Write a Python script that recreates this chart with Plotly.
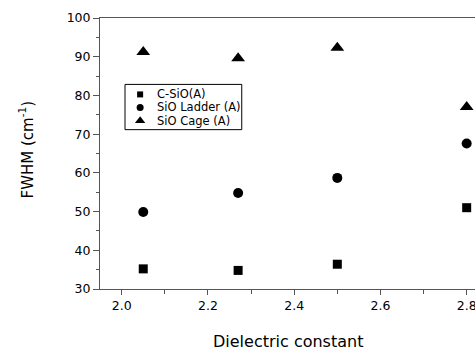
import plotly.graph_objects as go

dielectric = [2.05, 2.27, 2.50, 2.80]
c_sio = [35.2, 34.8, 36.4, 51.0]
sio_ladder = [49.9, 54.8, 58.7, 67.6]
sio_cage = [91.2, 89.6, 92.3, 77.0]

names = ["C-SiO(A)", "SiO Ladder (A)", "SiO Cage (A)"]
symbols = ["square", "circle", "triangle-up"]
sizes = [9, 10, 12]
legend_sizes = [6, 7, 9]

font = "DejaVu Sans, Verdana, sans-serif"
axcol = "#555"

fig = go.Figure()
for name, vals, sym, sz in zip(names, [c_sio, sio_ladder, sio_cage], symbols, sizes):
    fig.add_trace(go.Scatter(x=dielectric, y=vals, mode="markers", name=name,
                             showlegend=False,
                             marker=dict(symbol=sym, size=sz, color="black")))

# manual legend (compact, like the reference)
leg_x0, leg_x1, leg_y0, leg_y1 = 0.0667, 0.378, 0.588, 0.755
row_y = [0.718, 0.670, 0.621]
mark_x = 0.107
text_x = 0.147
fig.add_shape(type="rect", xref="paper", yref="paper", x0=leg_x0, x1=leg_x1, y0=leg_y0, y1=leg_y1,
              line=dict(color="black", width=1), fillcolor="white", layer="below")
for name, sym, sz, ry in zip(names, symbols, legend_sizes, row_y):
    fig.add_trace(go.Scatter(x=[mark_x], y=[ry], xaxis="x2", yaxis="y2", mode="markers",
                             showlegend=False, hoverinfo="skip",
                             marker=dict(symbol=sym, size=sz, color="black")))
    fig.add_annotation(x=text_x, y=ry, xref="paper", yref="paper", text=name, showarrow=False,
                       xanchor="left", yanchor="middle", font=dict(family=font, size=11.5, color="black"))

axis_common = dict(showgrid=False, zeroline=False, linecolor=axcol, linewidth=1, automargin=False,
                   ticks="outside", tickcolor=axcol, ticklabeloverflow="allow",
                   tickfont=dict(family=font, size=12.5, color="black"))

fig.update_layout(
    width=475, height=350,
    margin=dict(l=100, r=0, t=18, b=60.5),
    paper_bgcolor="white", plot_bgcolor="white",
    font=dict(family=font, color="black"),
    showlegend=False,
    xaxis=dict(range=[1.9497, 2.8193], dtick=0.2, tick0=2.0, tickformat=".1f", ticklen=5,
               mirror=True,
               minor=dict(dtick=0.1, tick0=2.0, ticks="outside", ticklen=4, tickcolor=axcol),
               **axis_common),
    yaxis=dict(range=[30, 100], dtick=10, ticklen=6,
               minor=dict(dtick=5, ticks="outside", ticklen=3, tickcolor=axcol),
               **axis_common),
    xaxis2=dict(range=[0, 1], overlaying="x", visible=False, fixedrange=True),
    yaxis2=dict(range=[0, 1], overlaying="y", visible=False, fixedrange=True),
)

fig.add_annotation(x=0.5, y=0, xref="paper", yref="paper", text="Dielectric constant",
                   showarrow=False, xanchor="center", yanchor="middle", yshift=-52,
                   font=dict(family=font, size=16, color="black"))
fig.add_annotation(x=0, y=0.5, xref="paper", yref="paper", text="FWHM (cm<sup>-1</sup>)",
                   showarrow=False, xanchor="center", yanchor="middle", textangle=-90,
                   xshift=-74, yshift=4,
                   font=dict(family=font, size=15, color="black"))

# remove the default page margin so the 475x350 figure fills the window exactly
fig.write_html("out.html", config={"displayModeBar": False},
               post_script="document.body.style.margin='0px';document.body.style.overflow='hidden';")
